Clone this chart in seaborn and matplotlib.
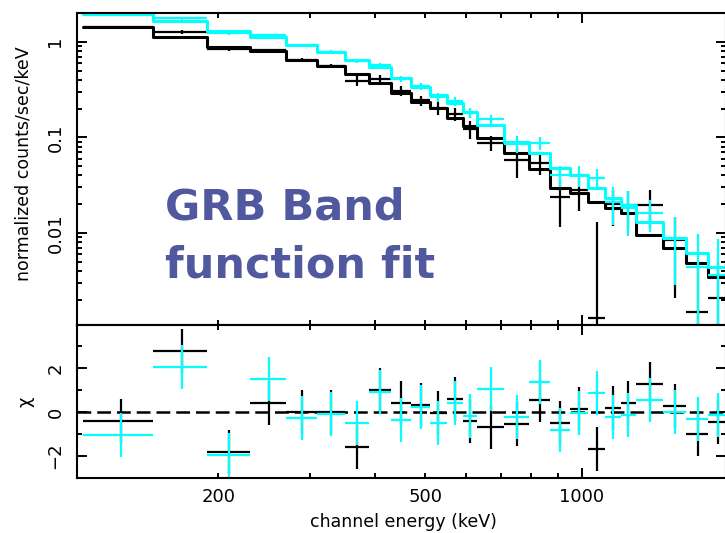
import numpy as np
import pandas as pd
import matplotlib
matplotlib.use("Agg")
import matplotlib.pyplot as plt
from matplotlib.ticker import FixedLocator, FixedFormatter, NullFormatter
import seaborn as sns

# channel bins (keV), shared by both detectors
bin_edges = [110, 150, 190, 230, 270, 310, 350, 390, 430, 470, 510, 550, 590, 630,
             710, 790, 870, 950, 1030, 1110, 1190, 1270, 1430, 1590, 1750, 1910]

# black detector: model, data, 1-sigma error, chi residual
black_model = [1.436, 1.128, 0.886, 0.805, 0.648, 0.561, 0.462, 0.372, 0.292, 0.235,
               0.204, 0.160, 0.132, 0.0988, 0.0688, 0.0468, 0.0296, 0.0262, 0.0211,
               0.0183, 0.0162, 0.00953, 0.00697, 0.00485, 0.00346]
black_data = [1.42, 1.27, 0.832, 0.817, 0.648, 0.561, 0.391, 0.41, 0.306, 0.244,
              0.2025, 0.176, 0.122, 0.088, 0.0578, 0.0545, 0.0236, 0.0279, 0.0013,
              0.0199, 0.0194, 0.0196, 0.00847, 0.0015, 0.0021]
black_err = [0.04, 0.051, 0.03, 0.03, 0.03, 0.03, 0.044, 0.038, 0.035, 0.03,
             0.03, 0.027, 0.025, 0.016, 0.02, 0.014, 0.012, 0.011, 0.0116,
             0.008, 0.008, 0.0084, 0.0064, 0.0033, 0.0028]
black_chi = [-0.41, 2.77, -1.8, 0.4, 0.0, 0.0, -1.6, 1.0, 0.4, 0.3,
             -0.05, 0.6, -0.4, -0.7, -0.55, 0.55, -0.5, 0.15, -1.7,
             0.2, 0.4, 1.25, 0.25, -1.0, -0.45]

# cyan detector
cyan_model = [1.965, 1.66, 1.304, 1.128, 0.930, 0.786, 0.648, 0.547, 0.420, 0.338,
              0.279, 0.230, 0.185, 0.135, 0.0897, 0.0688, 0.0480, 0.0405, 0.0296,
              0.0232, 0.0196, 0.0130, 0.00887, 0.00618, 0.00441]
cyan_data = [1.91, 1.76, 1.226, 1.18, 0.922, 0.783, 0.633, 0.574, 0.4095, 0.345,
             0.265, 0.240, 0.181, 0.154, 0.086, 0.0877, 0.040, 0.040, 0.0373,
             0.021, 0.0182, 0.0163, 0.00887, 0.00438, 0.00366]
cyan_err = [0.05, 0.05, 0.04, 0.035, 0.03, 0.03, 0.03, 0.03, 0.03, 0.03,
            0.028, 0.025, 0.022, 0.018, 0.017, 0.014, 0.01, 0.01, 0.009,
            0.009, 0.009, 0.006, 0.006, 0.0054, 0.005]
cyan_chi = [-1.05, 2.05, -1.95, 1.5, -0.27, -0.1, -0.5, 0.9, -0.35, 0.22,
            -0.5, 0.4, -0.2, 1.05, -0.22, 1.35, -0.8, -0.05, 0.85,
            -0.25, -0.15, 0.55, 0.0, -0.3, -0.15]

x_major = [1000]
x_minor = [200, 300, 400, 500, 600, 700, 800, 900]
x_minor_labels = ["200", "", "", "500", "", "", "", ""]

CYAN = "#00ffff"
TEXT_BLUE = "#50589e"

sns.set_style("ticks")
plt.rcParams["font.family"] = ["DejaVu Sans"]
plt.rcParams.update({"text.color": "black", "axes.labelcolor": "black",
                     "xtick.color": "black", "ytick.color": "black"})

edges = np.array(bin_edges, dtype=float)
lo, hi = edges[:-1], edges[1:]
centers = (lo + hi) / 2
xerr = [centers - lo, hi - centers]

fig = plt.figure(figsize=(7.25, 5.33), dpi=100)
W, H = 725, 533
ax1 = fig.add_axes([77 / W, 1 - 325 / H, 648.5 / W, 312 / H])
ax2 = fig.add_axes([77 / W, 1 - 478 / H, 648.5 / W, 153 / H], sharex=ax1)

# top panel: model steps + data crosses
for model, data, err, col in [(black_model, black_data, black_err, "black"),
                              (cyan_model, cyan_data, cyan_err, CYAN)]:
    steps = pd.DataFrame({"E": edges, "flux": list(model) + [model[-1]]})
    sns.lineplot(data=steps, x="E", y="flux", drawstyle="steps-post", color=col,
                 lw=2.2, ax=ax1, sort=False)
    ax1.errorbar(centers, data, xerr=xerr, yerr=err, fmt="none", ecolor=col,
                 elinewidth=1.6, capsize=0)

ax1.set_xscale("log")
ax1.set_yscale("log")
ax1.set_xlim(107, 1890)
ax1.set_ylim(1.09e-3, 2.0)
ax1.set_xlabel("")
ax1.set_ylabel("normalized counts/sec/keV", fontsize=12.5, va="center")
ax1.yaxis.set_label_coords(-0.082, 0.516)
ax1.yaxis.set_major_locator(FixedLocator([0.001, 0.01, 0.1, 1]))
ax1.yaxis.set_major_formatter(FixedFormatter(["0.001", "0.01", "0.1", "1"]))
ax1.yaxis.set_minor_locator(FixedLocator(
    [m * d for d in (0.001, 0.01, 0.1, 1) for m in range(2, 10)]))
ax1.yaxis.set_minor_formatter(NullFormatter())

# bottom panel: residuals
for chi, col in [(black_chi, "black"), (cyan_chi, CYAN)]:
    ax2.errorbar(centers, chi, xerr=xerr, yerr=1.0, fmt="none", ecolor=col,
                 elinewidth=1.6, capsize=0)
ax2.axhline(0, color="black", lw=1.8, ls=(0, (5.5, 2.4)), zorder=0.5)
ax2.set_ylim(-3.0, 3.95)
ax2.set_yticks([-2, 0, 2])
ax2.set_yticklabels(["\u22122", "0", "2"])
ax2.yaxis.set_minor_locator(FixedLocator([-3, -1, 1, 3]))
ax2.set_ylabel("\u03c7", fontsize=13, va="center")
ax2.yaxis.set_label_coords(-0.08, 0.5)
ax2.set_xlabel("channel energy (keV)", fontsize=12.5, va="center")
ax2.xaxis.set_label_coords(0.504, -0.288)

for ax in (ax1, ax2):
    ax.xaxis.set_major_locator(FixedLocator(x_major))
    ax.xaxis.set_minor_locator(FixedLocator(x_minor))
    for s in ax.spines.values():
        s.set_linewidth(1.5)
        s.set_color("black")
    ax.tick_params(which="both", direction="in", top=True, right=True,
                   width=1.4, color="black", labelcolor="black", labelsize=13)
    ax.tick_params(which="major", length=7.5)
    ax.tick_params(which="minor", length=3.8)
    ax.tick_params(axis="y", which="both", labelrotation=90, pad=9)
    ax.tick_params(axis="x", which="both", pad=7)
    for t in ax.get_yticklabels():
        t.set_va("center")

ax1.xaxis.set_major_formatter(NullFormatter())
ax1.xaxis.set_minor_formatter(NullFormatter())
ax2.xaxis.set_major_formatter(FixedFormatter(["1000"]))
ax2.xaxis.set_minor_formatter(FixedFormatter(x_minor_labels))

fig.text(165 / W, 1 - 220 / H, "GRB Band", fontsize=31, fontweight="bold",
         color=TEXT_BLUE, ha="left", va="baseline")
fig.text(165 / W, 1 - 277 / H, "function fit", fontsize=31, fontweight="bold",
         color=TEXT_BLUE, ha="left", va="baseline")

fig.savefig("out.png", dpi=100)
